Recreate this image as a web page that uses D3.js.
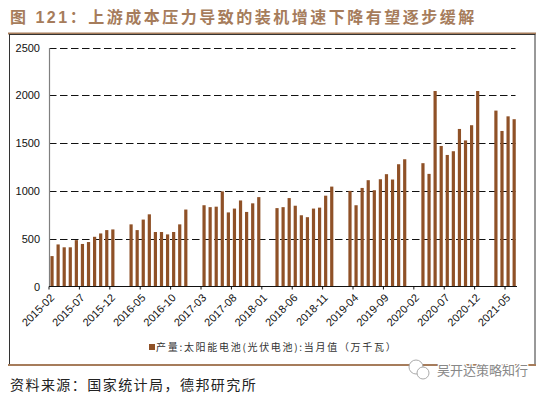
<!DOCTYPE html>
<html><head><meta charset="utf-8">
<script src="https://cdn.jsdelivr.net/npm/d3@7"></script>
<style>html,body{margin:0;padding:0;background:#fff}svg{display:block}</style>
</head><body><svg id="c" width="543" height="393"></svg>
<script>
const titleText = "图 121\uFF1A上游成本压力导致的装机增速下降有望逐步缓解";
const sourceText = "资料来源\uFF1A国家统计局\uFF0C德邦研究所";
const legendText = "产量:太阳能电池(光伏电池):当月值\uFF08万千瓦\uFF09";
const watermark = "吴开达策略知行";
const months = [];
for (let y = 2015; y <= 2021; y++) for (let m = 1; m <= 12; m++) {
  if ((y === 2015 && m < 2) || (y === 2021 && m > 6)) continue;
  months.push(y + "-" + String(m).padStart(2, "0"));
}
const values2015 = [318,440,410,410,485,445,465,520,555,590,597];
const values2016 = [null,null,650,590,700,755,570,570,545,570,650,805];
const values2017 = [null,null,850,830,835,995,775,815,900,780,870,935];
const values2018 = [null,null,820,830,925,845,745,725,815,825,950,1045];
const values2019 = [null,null,1000,850,1031,1112,1007,1122,1175,1119,1279,1331];
const values2020 = [null,null,1290,1178,2045,1470,1376,1415,1648,1528,1687,2045];
const values2021 = [null,null,1840,1627,1780,1750];
const values = [].concat(values2015,values2016,values2017,values2018,values2019,values2020,values2021);
const yTicks = [0,500,1000,1500,2000,2500];
const tickMonths = ["2015-02","2015-07","2015-12","2016-05","2016-10","2017-03","2017-08","2018-01","2018-06","2018-11","2019-04","2019-09","2020-02","2020-07","2020-12","2021-05"];

const svg = d3.select("#c");
const brown = "#a67c5b", bar = "#8f5127";
const cjk = "'Noto Sans CJK SC','Noto Sans',sans-serif";
const latin = "'Liberation Sans',Arial,sans-serif";

svg.append("text").attr("x",10).attr("y",22.5).attr("fill",brown)
  .style("font-family","'Liberation Sans','Noto Sans CJK SC',sans-serif").style("font-size","16px").style("font-weight","bold")
  .style("letter-spacing","2.5px").text(titleText);
svg.append("line").attr("x1",8).attr("x2",536).attr("y1",33.5).attr("y2",33.5).attr("stroke",brown).attr("stroke-width",2);
svg.append("rect").attr("x",9.5).attr("y",34.5).attr("width",525.5).attr("height",330).attr("fill","none").attr("stroke","#333").attr("stroke-width",1);
svg.append("line").attr("x1",8).attr("x2",536).attr("y1",365).attr("y2",365).attr("stroke",brown).attr("stroke-width",2);

const x = d3.scaleBand().domain(months).range([49,517.2]);
const y = d3.scaleLinear().domain([0,2500]).range([286.5,47.5]);

svg.append("g").selectAll("line").data(yTicks.slice(1)).join("line")
  .attr("x1",49).attr("x2",515.5).attr("y1",d=>Math.round(y(d))+0.5).attr("y2",d=>Math.round(y(d))+0.5)
  .attr("stroke","#111").attr("stroke-width",1).attr("stroke-dasharray","7.5 3.5");

svg.append("g").selectAll("rect").data(months.map((m,i)=>({m,v:values[i]})).filter(d=>d.v!=null)).join("rect")
  .attr("x",d=>x(d.m)+x.bandwidth()/2-1.6).attr("width",3.2)
  .attr("y",d=>y(d.v)).attr("height",d=>y(0)-y(d.v)).attr("fill",bar);

const yAxis = svg.append("g").attr("transform","translate(49,0)")
  .call(d3.axisLeft(y).tickValues(yTicks).tickFormat(d3.format("d")).tickSize(0).tickPadding(9));
yAxis.select(".domain").attr("stroke","#808080").attr("stroke-width",1.2);
yAxis.selectAll("text").attr("fill","#111").style("font-family",latin).style("font-size","11px");

const xAxis = svg.append("g").attr("transform","translate(0,286.5)")
  .call(d3.axisBottom(x).tickValues(tickMonths).tickSize(3).tickPadding(4));
xAxis.select(".domain").attr("stroke","#111").attr("stroke-width",1).attr("d","M49,0H517");
xAxis.selectAll(".tick").attr("transform",d=>`translate(${x(d)},0)`);
xAxis.selectAll("line").attr("stroke","#111");
xAxis.selectAll("text").attr("fill","#111").attr("text-anchor","end").attr("dy",0).attr("y",0)
  .attr("transform","translate(6,12) rotate(-45)").style("font-family",latin).style("font-size","11px");

svg.append("rect").attr("x",149).attr("y",344).attr("width",6).attr("height",6).attr("fill",bar);
svg.append("text").attr("x",156).attr("y",351).attr("fill","#333")
  .style("font-family",cjk).style("font-size","10px").style("letter-spacing","1.7px").text(legendText);

svg.append("text").attr("x",10).attr("y",390).attr("fill","#222")
  .style("font-family",cjk).style("font-size","14px").style("letter-spacing","1.45px").text(sourceText);

const wm = svg.append("g");
wm.append("circle").attr("cx",416).attr("cy",367).attr("r",7).attr("fill","#fff").attr("stroke","#aaa").attr("stroke-width",1);
wm.append("circle").attr("cx",423).attr("cy",373).attr("r",6).attr("fill","#fff").attr("stroke","#aaa").attr("stroke-width",1);
wm.append("text").attr("x",437).attr("y",375).attr("fill","#888").attr("stroke","#fff").attr("stroke-width",2.5).attr("paint-order","stroke")
  .style("font-family",cjk).style("font-size","13px").text(watermark);
</script></body></html>
